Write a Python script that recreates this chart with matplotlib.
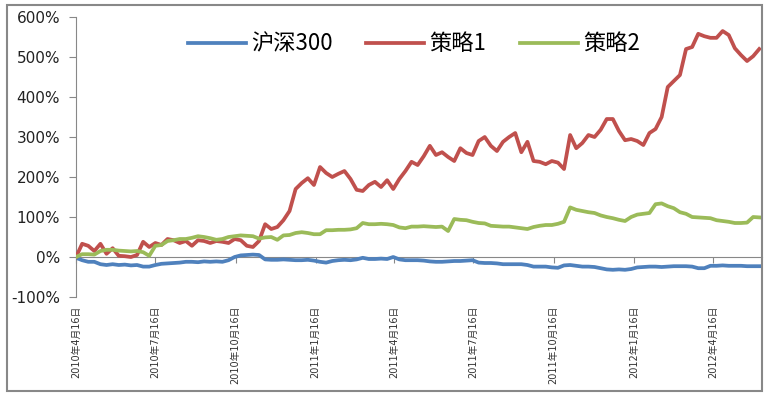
import matplotlib
matplotlib.use("Agg")
import matplotlib.pyplot as plt
import matplotlib.dates as mdates
import matplotlib.transforms as mtransforms
from matplotlib.patches import Rectangle
import numpy as np
import pandas as pd

plt.rcParams["font.family"] = ["Noto Sans CJK SC", "DejaVu Sans"]

# weekly observations, first one on 2010-04-16
start_date = "2010-04-16"
n_weeks = 113

# cumulative return, %
hs300 = [
    -2, -8, -12, -12, -18, -20, -18, -20, -19, -21,
    -20, -24, -24, -20, -17, -16, -15, -14, -12, -12,
    -13, -11, -12, -11, -12, -8, 0, 4, 5, 6,
    5, -6, -7, -7, -6, -7, -8, -8, -7, -9,
    -12, -14, -10, -8, -7, -8, -6, -2, -5, -5,
    -4, -5, 0, -6, -8, -8, -8, -9, -11, -12,
    -12, -11, -10, -10, -9, -8, -14, -15, -15, -16,
    -18, -18, -18, -18, -20, -24, -24, -24, -26, -27,
    -21, -20, -22, -24, -24, -25, -28, -31, -32, -31,
    -32, -30, -26, -25, -24, -24, -25, -24, -23, -23,
    -23, -24, -28, -28, -22, -22, -21, -22, -22, -22,
    -23, -23, -23,
]
strategy1 = [
    0, 33, 28, 15, 33, 8, 22, 3, 2, 0,
    5, 38, 25, 35, 30, 45, 42, 35, 40, 28,
    42, 40, 35, 40, 38, 35, 45, 42, 28, 25,
    40, 82, 70, 75, 92, 115, 170, 185, 197, 180,
    225, 210, 200, 208, 215, 195, 168, 165, 180, 188,
    175, 192, 170, 195, 215, 238, 230, 252, 278, 255,
    262, 250, 240, 272, 260, 255, 290, 300, 278, 265,
    288, 300, 310, 262, 288, 240, 238, 232, 240, 236,
    220, 305, 272, 285, 305, 300, 318, 345, 345, 315,
    292, 295, 290, 280, 310, 320, 350, 425, 440, 455,
    520, 525, 558, 552, 548, 548, 565, 555, 522, 505,
    490, 502, 520,
]
strategy2 = [
    0, 7, 7, 6, 15, 18, 18, 16, 15, 14,
    15, 12, 3, 28, 30, 40, 42, 45, 45, 48,
    52, 50, 47, 43, 45, 50, 52, 54, 53, 52,
    46, 49, 50, 43, 54, 55, 60, 62, 60, 57,
    57, 67, 67, 68, 68, 69, 72, 85, 82, 82,
    83, 82, 80, 74, 72, 76, 76, 77, 76, 75,
    76, 65, 95, 93, 92, 88, 85, 84, 78, 77,
    76, 76, 74, 72, 70, 75, 78, 80, 80, 83,
    88, 124, 118, 115, 112, 110, 104, 100, 97, 93,
    90, 100, 106, 108, 110, 132, 134, 127, 122, 112,
    108, 100, 99, 98, 97, 92, 90, 88, 85, 85,
    86, 100, 99,
]

series_names = ["沪深300", "策略1", "策略2"]
colors = ["#4f81bd", "#c0504d", "#9bbb59"]

tick_dates = [
    "2010-04-16", "2010-07-16", "2010-10-16", "2011-01-16", "2011-04-16",
    "2011-07-16", "2011-10-16", "2012-01-16", "2012-04-16",
]
tick_labels = [
    "2010年4月16日", "2010年7月16日", "2010年10月16日", "2011年1月16日",
    "2011年4月16日", "2011年7月16日", "2011年10月16日", "2012年1月16日",
    "2012年4月16日",
]

dates = pd.date_range(start_date, periods=n_weeks, freq="7D")

fig = plt.figure(figsize=(7.68, 3.96), dpi=100)
ax = fig.add_axes([0.099, 0.25, 0.893, 0.707])

for vals, name, c in zip([hs300, strategy1, strategy2], series_names, colors):
    ax.plot(dates, np.array(vals) / 100, color=c, lw=2.7, label=name,
            zorder=3, solid_joinstyle="round")

yt = np.arange(-1, 6.01, 1)
ax.set_ylim(-1, 6)
ax.set_yticks(yt)
ax.set_yticklabels([f"{int(round(v * 100))}%" for v in yt],
                   family="DejaVu Sans")
ax.set_xlim(pd.Timestamp(start_date), pd.Timestamp(start_date) + pd.Timedelta(days=787))

ticks = pd.to_datetime(tick_dates)
ax.set_xticks(ticks)
ax.set_xticklabels([])
trans = mtransforms.blended_transform_factory(ax.transData, ax.transAxes)
for t, lab in zip(ticks, tick_labels):
    ax.text(mdates.date2num(t), -0.03, lab, rotation=90, ha="center", va="top",
            fontsize=7, color="#333333", transform=trans,
            family=["DejaVu Sans", "Noto Sans CJK SC"])

for side in ["top", "right"]:
    ax.spines[side].set_visible(False)
ax.spines["bottom"].set_position(("data", 0))
ax.spines["left"].set_color("#888888")
ax.spines["bottom"].set_color("#888888")
ax.tick_params(axis="x", direction="out", length=4, color="#888888")
ax.tick_params(axis="y", direction="out", length=5, color="#888888",
               labelsize=11, labelcolor="#222222", pad=6.5)

fig.legend(loc="center", bbox_to_anchor=(414 / 768, 1 - 44 / 396), ncol=3,
           frameon=False, fontsize=16, handlelength=2.6, handletextpad=0.25,
           columnspacing=1.5)

fig.patches.append(Rectangle((7 / 768, 5 / 396), 755 / 768, 386 / 396,
                             transform=fig.transFigure, fill=False,
                             edgecolor="#888888", lw=1.5))

fig.savefig("out.png", dpi=100)
